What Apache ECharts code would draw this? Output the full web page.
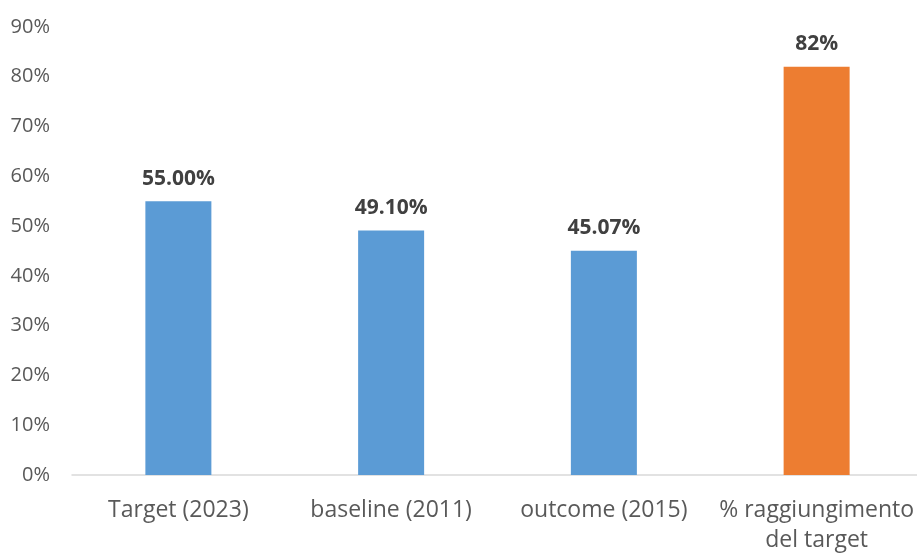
<!DOCTYPE html>
<html>
<head>
<meta charset="utf-8">
<script src="https://cdn.jsdelivr.net/npm/echarts@6/dist/echarts.min.js"></script>
<style>html,body{margin:0;padding:0;background:#fff;}#c{width:917px;height:553px;}</style>
</head>
<body>
<div id="c"></div>
<script>
var categories = ['Target (2023)', 'baseline (2011)', 'outcome (2015)', '% raggiungimento\ndel target'];
var values = [55.00, 49.10, 45.07, 82];
var valueLabels = ['55.00%', '49.10%', '45.07%', '82%'];
var barColors = ['#5B9BD5', '#5B9BD5', '#5B9BD5', '#ED7D31'];
var yTicks = [0, 10, 20, 30, 40, 50, 60, 70, 80, 90];

var chart = echarts.init(document.getElementById('c'));
var font = '"Open Sans", "Noto Sans", sans-serif';
chart.setOption({
  animation: false,
  grid: { left: 72, right: -6, top: 27, bottom: 78, outerBoundsMode: 'none', containLabel: false },
  xAxis: {
    type: 'category',
    data: categories,
    axisLine: { lineStyle: { color: '#d9d9d9', width: 1.5 } },
    axisTick: { show: false },
    axisLabel: { color: '#595959', fontSize: 23, fontFamily: font, margin: 20, lineHeight: 30, interval: 0 }
  },
  yAxis: {
    type: 'value',
    min: 0, max: 90, interval: 10,
    axisLine: { show: false },
    axisTick: { show: false },
    splitLine: { show: false },
    axisLabel: { color: '#595959', fontSize: 20, fontFamily: font, margin: 22, formatter: function (v) { return v + '%'; } }
  },
  series: [{
    type: 'bar',
    barWidth: 66,
    data: values.map(function (v, i) { return { value: v, itemStyle: { color: barColors[i] } }; }),
    label: {
      show: true, position: 'top', distance: 12,
      color: '#404040', fontSize: 21, fontWeight: 'bold', fontFamily: font,
      formatter: function (p) { return valueLabels[p.dataIndex]; }
    }
  }]
});
</script>
</body>
</html>
